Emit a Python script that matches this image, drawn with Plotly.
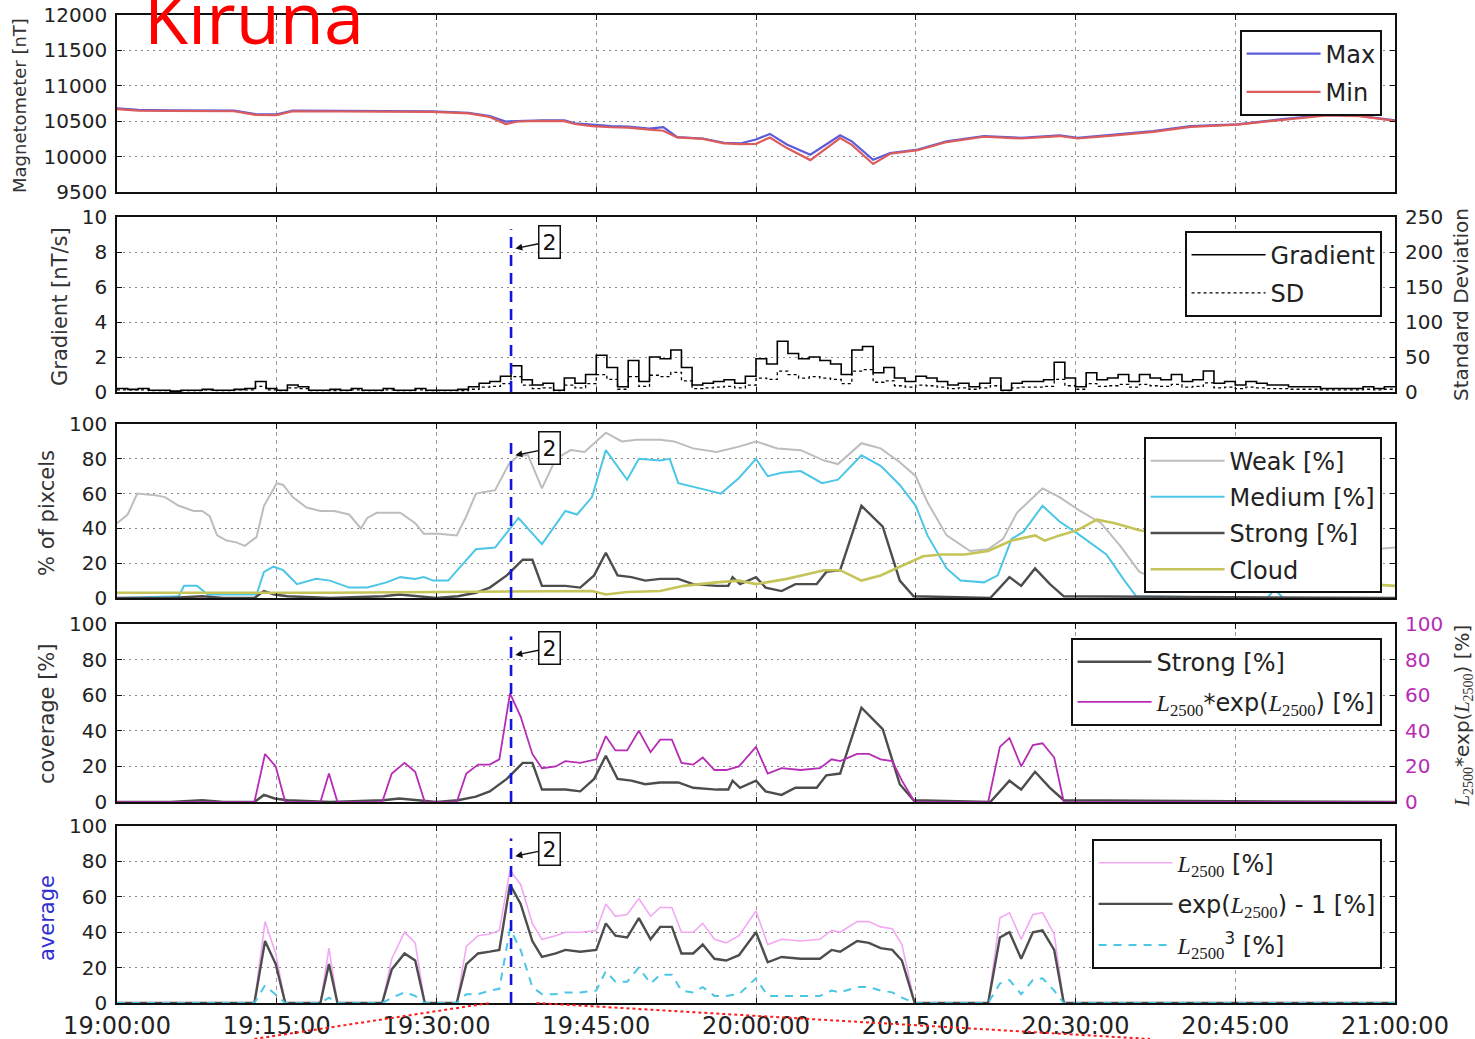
import plotly.graph_objects as go
from plotly.subplots import make_subplots

# ---------------- data (minutes after 19:00) ----------------
tick_minutes = [0, 15, 30, 45, 60, 75, 90, 105, 120]
tick_labels = ["19:00:00", "19:15:00", "19:30:00", "19:45:00", "20:00:00",
               "20:15:00", "20:30:00", "20:45:00", "21:00:00"]

mag_minutes = [0, 2, 5, 8, 11, 13, 15, 16.5, 20, 25, 29.6, 33, 35, 36.5, 37.6, 40, 42, 43, 44.6, 46.4,
               48, 50, 51.3, 52.6, 55, 57, 58.5, 60, 61.3, 62.9, 65.1, 67.9, 69, 71, 72.6, 75.2, 77.9,
               81.4, 84.9, 88.5, 90.2, 93.7, 97.3, 100.8, 105.2, 109.2, 113.6, 116.7, 120]
mag_max = [10681, 10660, 10652, 10652, 10650, 10600, 10598, 10650, 10645, 10645, 10640, 10619, 10571,
           10495, 10500, 10512, 10510, 10470, 10450, 10430, 10425, 10395, 10415, 10275, 10255, 10195,
           10185, 10240, 10320, 10170, 10025, 10300, 10215, 9955, 10050, 10100, 10215, 10290, 10265,
           10300, 10265, 10310, 10360, 10430, 10455, 10525, 10590, 10575, 10510]
mag_min = [10670, 10650, 10645, 10645, 10640, 10590, 10585, 10640, 10635, 10635, 10630, 10610, 10560,
           10460, 10495, 10505, 10500, 10460, 10430, 10414, 10410, 10380, 10365, 10270, 10250, 10185,
           10175, 10180, 10270, 10120, 9950, 10262, 10165, 9895, 10040, 10090, 10205, 10280, 10255,
           10290, 10255, 10300, 10350, 10420, 10450, 10515, 10580, 10570, 10505]

grad_minutes = list(range(0, 121))
gradient = [0.2, 0.15, 0.2, 0.1, 0.1, 0.05, 0.1, 0.1, 0.15, 0.1, 0.1, 0.15, 0.2,
            0.6, 0.2, 0.1, 0.4, 0.3, 0.1, 0.1, 0.15, 0.1, 0.2, 0.1, 0.1, 0.2, 0.1, 0.1, 0.2, 0.1,
            0.1, 0.1, 0.15, 0.3, 0.5, 0.6, 0.9, 1.5, 0.7, 0.4, 0.5, 0.1, 0.8, 0.5, 1.0, 2.1, 1.4,
            0.3, 1.8, 0.6, 2.0, 1.9, 2.4, 1.4, 0.4, 0.5, 0.6, 0.7, 0.5, 0.9, 1.9, 1.6, 2.9, 2.2,
            1.9, 2.0, 1.8, 1.6, 1.0, 2.4, 2.6, 1.1, 1.4, 0.8, 0.6, 0.9, 0.8, 0.6, 0.4, 0.5, 0.3,
            0.5, 0.8, 0.1, 0.5, 0.6, 0.6, 0.7, 1.7, 0.8, 0.3, 1.1, 0.7, 0.8, 1.0, 0.6, 1.0, 0.8,
            0.7, 1.0, 0.6, 0.7, 1.2, 0.5, 0.6, 0.4, 0.6, 0.5, 0.4, 0.4, 0.3, 0.3, 0.3, 0.2, 0.2,
            0.2, 0.2, 0.3, 0.2, 0.3, 0.3]
std_dev = [3, 3, 3, 2, 2, 1, 2, 2, 3, 2, 2, 3, 3,
           8, 3, 2, 6, 5, 2, 2, 2, 2, 3, 2, 2, 3, 2, 2, 3, 2,
           2, 2, 2, 4, 7, 8, 12, 22, 10, 5, 6, 2, 10, 6, 12, 25, 18,
           4, 22, 8, 24, 22, 28, 16, 5, 6, 7, 8, 6, 10, 20, 18, 30, 25,
           20, 22, 20, 18, 12, 30, 32, 14, 16, 9, 7, 10, 9, 7, 5, 6, 4,
           6, 9, 2, 6, 7, 7, 8, 18, 9, 4, 12, 8, 9, 11, 7, 11, 9,
           8, 11, 7, 8, 13, 6, 7, 5, 7, 6, 5, 5, 4, 4, 4, 3, 3,
           3, 3, 4, 3, 4, 4]

weak_t = [0, 1, 1.9, 3.6, 4.5, 5.8, 7.2, 8, 8.7, 9.4, 10.3, 11.2, 12, 13.1, 13.8, 15, 15.6, 16.5, 17.8,
          19.1, 20.4, 21.8, 22.9, 23.5, 24.4, 26.6, 28, 28.8, 30.2, 31.9, 32.8, 33.7, 35.5, 36.8, 37.7,
          38.6, 39.9, 41.2, 42.6, 43.9, 45.9, 47.4, 48.8, 51, 52.3, 54.1, 56.3, 58.4, 60, 62, 64.2,
          66.4, 67.7, 69.9, 71.7, 73.5, 75, 76.1, 77.9, 80.1, 81.8, 83.2, 84.5, 86.9, 88.5, 90.2,
          92.4, 94.2, 96, 98, 101, 105, 110, 115, 118, 120]
weak_v = [43, 48, 60, 59, 58, 53, 50, 50, 47, 36, 33, 32, 30, 35, 53, 66, 65, 58, 52, 50, 50, 48, 40,
          46, 49, 49, 43, 37, 37, 36, 47, 60, 62, 77, 82, 82, 63, 80, 85, 84, 95, 90, 91, 91, 90, 86,
          84, 87, 90, 86, 85, 79, 77, 89, 86, 78, 70, 55, 36, 27, 28, 34, 49, 63, 58, 51, 43, 30, 15,
          10, 8, 10, 18, 25, 28, 29]

med_t = [0, 5.8, 6.3, 7.5, 8.5, 13.1, 13.8, 14.7, 15.6, 16.9, 18.7, 20, 21.8, 23.5, 25.3, 26.6, 28,
         28.8, 29.7, 31.1, 32.4, 33.7, 35.5, 36.4, 37.7, 39.9, 42.1, 43.2, 44.6, 45.9, 47.9, 49, 51,
         51.9, 52.7, 55.4, 56.7, 58.4, 60, 61.1, 62.4, 64.2, 66.2, 67.7, 69.9, 71.7, 73.5, 75, 76.1,
         77.9, 79.2, 81.4, 82.7, 84, 85.1, 86.9, 88.5, 90.2, 92.9, 94.6, 95.7, 108, 108.7, 109.5, 120]
med_v = [0, 1, 7, 7, 2, 2, 15, 18, 16, 8, 11, 10, 6, 6, 9, 12, 11, 12, 10, 10, 19, 28, 29, 36, 46, 31,
         50, 48, 58, 85, 68, 80, 79, 80, 66, 62, 60, 69, 80, 70, 72, 73, 66, 68, 82, 76, 65, 53, 36,
         17, 10, 9, 13, 34, 38, 53, 44, 37, 25, 10, 1, 0, 5, 0, 0]

strong_t = [0, 5, 8, 10, 12.9, 13.8, 14.8, 16, 20, 25, 26.5, 28, 30, 32, 32.8, 33.7, 35, 36.6, 38.1,
            39, 39.9, 42.1, 43.5, 44.8, 45.9, 47, 48.3, 49.6, 51, 52.7, 54.1, 56.3, 57.4, 57.8, 58.5,
            60, 60.9, 62.4, 63.7, 65.7, 66.6, 67.9, 69.9, 71.9, 73.5, 74.8, 82, 83.8, 84.9, 86.2,
            87.6, 88.9, 120]
strong_v = [0, 0, 1, 0, 0, 4, 2, 1, 0, 1, 2, 1, 0, 1, 2, 3, 6, 13, 22, 22, 7, 7, 6, 13, 26, 13, 12,
            10, 11, 11, 8, 7, 7, 12, 8, 12, 6, 4, 8, 8, 15, 16, 53, 41, 10, 1, 0, 12, 7, 17, 8, 1, 0]

cloud_t = [0, 10, 20, 30, 40, 44.6, 45.9, 47.9, 51, 53.2, 56.3, 58.4, 60, 62.9, 66.4, 67.9, 69.9,
           71.7, 73.5, 75.7, 77.4, 79.6, 81.8, 84, 86.2, 87.1, 88.5, 90.2, 92, 93.7, 96, 100, 105,
           110, 115, 120]
cloud_v = [3, 3, 3, 3.5, 4, 4, 2, 3.5, 4, 7, 9, 10, 8, 11, 16, 16, 10, 13, 18, 24, 25, 25, 27, 33, 36,
           33, 36, 39, 45, 43, 39, 35, 25, 15, 9, 7]

l_t = [0, 12.9, 13.9, 14.9, 15.8, 19.1, 19.9, 20.7, 24.9, 25.8, 27, 28, 28.9, 31.9, 32.8, 33.9, 35,
       35.9, 36.9, 37.9, 39, 39.9, 41.2, 42.1, 43.5, 45, 45.9, 46.8, 47.9, 49, 50.1, 51, 52.1, 53,
       54.1, 55, 56.1, 57.2, 58.4, 60, 61.1, 62.4, 64.2, 66, 67.1, 67.9, 69.5, 70.6, 71.7, 72.8,
       73.7, 74.9, 81.8, 82.9, 83.8, 84.9, 86, 86.9, 88, 88.9, 120]
l_exp = [0, 0, 27, 20, 0, 0, 16, 0, 0, 16, 22, 17, 0, 0, 16, 21, 21, 24, 61, 48, 27, 19, 20, 23, 22,
         24, 37, 29, 29, 40, 28, 35, 35, 22, 21, 25, 18, 18, 20, 31, 16, 19, 18, 19, 24, 23, 27, 27,
         24, 23, 12, 0, 0, 31, 36, 20, 32, 33, 25, 0, 0]
l2500 = [0, 0, 46, 28, 0, 0, 31, 0, 0, 25, 40, 34, 0, 0, 32, 38, 39, 41, 75, 67, 45, 36, 38, 40, 40,
         41, 56, 49, 50, 59, 49, 54, 54, 40, 40, 45, 36, 34, 38, 52, 33, 36, 35, 36, 41, 40, 46, 46,
         43, 42, 33, 0, 0, 48, 51, 36, 50, 51, 39, 0, 0]
exp_m1 = [0, 0, 35, 22, 0, 0, 22, 0, 0, 19, 28, 24, 0, 0, 22, 28, 29, 30, 67, 56, 35, 26, 28, 30, 29,
          30, 45, 38, 37, 48, 36, 43, 43, 28, 28, 33, 25, 24, 27, 40, 23, 26, 25, 25, 30, 29, 35, 34,
          31, 30, 24, 0, 0, 37, 40, 25, 40, 41, 30, 0, 0]
l_cube = [0, 0, 10, 5, 0, 0, 3, 0, 0, 3, 6, 4, 0, 0, 5, 5, 7, 8, 42, 30, 9, 5, 5, 6, 6, 7, 18, 12, 12,
          20, 11, 16, 16, 7, 6, 9, 4, 4, 5, 14, 4, 4, 4, 4, 7, 6, 9, 9, 7, 6, 3, 0, 0, 11, 13, 5, 13,
          14, 7, 0, 0]

event_minute = 37.0
zoom_window = [35.0, 39.4]          # start/end of the red zoom lines on the bottom axis
zoom_ends = [12.9, 97.0]             # where the red zoom lines leave the figure

# ---------------- figure ----------------
FONT = "DejaVu Sans"
SERIF = "Liberation Serif"
L = f'<span style="font-family:{SERIF}"><i>L</i><sub>2500</sub></span>'

C_MAX, C_MIN = "#5c5cd8", "#dc5c5c"
C_WEAK, C_MED, C_STRONG, C_CLOUD = "#bdbdbd", "#4cc6e6", "#4d4d4d", "#c4c458"
C_MAG, C_PINK = "#b62cb6", "#f3a8f3"

fig = make_subplots(rows=5, cols=1, shared_xaxes=True,
                    specs=[[{}], [{"secondary_y": True}], [{}], [{"secondary_y": True}], [{}]])

fig.add_trace(go.Scatter(x=mag_minutes, y=mag_max, name="Max", mode="lines",
                         line=dict(color=C_MAX, width=2.2), legend="legend", legendgroup="a"), row=1, col=1)
fig.add_trace(go.Scatter(x=mag_minutes, y=mag_min, name="Min", mode="lines",
                         line=dict(color=C_MIN, width=2.2), legend="legend", legendgroup="b"), row=1, col=1)

fig.add_trace(go.Scatter(x=grad_minutes, y=gradient, name="Gradient", mode="lines",
                         line=dict(color="black", width=1.6, shape="hv"), legend="legend2",
                         legendgroup="c"), row=2, col=1, secondary_y=False)
fig.add_trace(go.Scatter(x=grad_minutes, y=std_dev, name="SD", mode="lines",
                         line=dict(color="black", width=1.3, shape="hv", dash="dot"), legend="legend2",
                         legendgroup="d"), row=2, col=1, secondary_y=True)

fig.add_trace(go.Scatter(x=weak_t, y=weak_v, name="Weak [%]", mode="lines",
                         line=dict(color=C_WEAK, width=2), legend="legend3", legendgroup="e"), row=3, col=1)
fig.add_trace(go.Scatter(x=med_t, y=med_v, name="Medium [%]", mode="lines",
                         line=dict(color=C_MED, width=2), legend="legend3", legendgroup="f"), row=3, col=1)
fig.add_trace(go.Scatter(x=strong_t, y=strong_v, name="Strong [%]", mode="lines",
                         line=dict(color=C_STRONG, width=2.4), legend="legend3", legendgroup="g"), row=3, col=1)
fig.add_trace(go.Scatter(x=cloud_t, y=cloud_v, name="Cloud", mode="lines",
                         line=dict(color=C_CLOUD, width=2.6), legend="legend3", legendgroup="h"), row=3, col=1)

fig.add_trace(go.Scatter(x=strong_t, y=strong_v, name="Strong [%]", mode="lines",
                         line=dict(color=C_STRONG, width=2.4), legend="legend4", legendgroup="i"),
              row=4, col=1, secondary_y=False)
fig.add_trace(go.Scatter(x=l_t, y=l_exp, name=f"{L}*exp({L}) [%]", mode="lines",
                         line=dict(color=C_MAG, width=1.8), legend="legend4", legendgroup="j"),
              row=4, col=1, secondary_y=True)

fig.add_trace(go.Scatter(x=l_t, y=l2500, name=f"{L} [%]", mode="lines",
                         line=dict(color=C_PINK, width=1.6), legend="legend5", legendgroup="k"), row=5, col=1)
fig.add_trace(go.Scatter(x=l_t, y=exp_m1, name=f"exp({L}) - 1 [%]", mode="lines",
                         line=dict(color=C_STRONG, width=2.4), legend="legend5", legendgroup="l"), row=5, col=1)
fig.add_trace(go.Scatter(x=l_t, y=l_cube, name=f"{L}<sup>3</sup> [%]", mode="lines",
                         line=dict(color=C_MED, width=2, dash="8px,7px"), legend="legend5",
                         legendgroup="m"), row=5, col=1)

# panel domains (fractions of plot area)
doms = [(0.8209, 1.0), (0.6184, 0.7955), (0.4099, 0.5860), (0.2034, 0.3836), (0.0, 0.1791)]
for r, d in enumerate(doms, start=1):
    fig.update_yaxes(domain=list(d), row=r, col=1)

fig.update_xaxes(domain=[0, 1], range=[0, 120], tickvals=tick_minutes, ticktext=tick_labels,
                 showgrid=True, gridcolor="#9a9a9a", gridwidth=1, griddash="4px,4px",
                 showline=True, linecolor="#111", linewidth=1.6, mirror="ticks",
                 ticks="inside", ticklen=5, tickcolor="#111", zeroline=False, automargin=False,
                 tickfont=dict(family=FONT, size=24, color="#222"))

yfont = dict(family=FONT, size=20, color="#222")
common_y = dict(showgrid=True, gridcolor="#8a8a8a", gridwidth=1.4, griddash="2px,4px",
                showline=True, linecolor="#111", linewidth=1.6, ticks="inside", ticklen=5,
                tickcolor="#111", zeroline=False, tickfont=yfont, automargin=False,
                ticklabelstandoff=4)
right_y = dict(showgrid=False, showline=False, ticks="inside", ticklen=5, tickcolor="#111",
               zeroline=False, automargin=False, ticklabelstandoff=9)
fig.update_layout(
    yaxis=dict(range=[9500, 12000], dtick=500, tickformat="d", mirror="ticks", **common_y),
    yaxis2=dict(range=[0, 10], dtick=2, mirror=True, **common_y),
    yaxis3=dict(range=[0, 250], dtick=50, tickfont=yfont, **right_y),
    yaxis4=dict(range=[0, 100], dtick=20, mirror="ticks", **common_y),
    yaxis5=dict(range=[0, 100], dtick=20, mirror=True, **common_y),
    yaxis6=dict(range=[0, 100], dtick=20, tickfont=dict(family=FONT, size=20, color=C_MAG), **right_y),
    yaxis7=dict(range=[0, 100], dtick=20, mirror="ticks", **common_y),
)

leg_common = dict(bgcolor="white", bordercolor="#111", borderwidth=1.6, xanchor="right",
                  yanchor="top", x=0.9898, font=dict(family=FONT, size=24, color="#222"),
                  itemwidth=74)
fig.update_layout(
    legend=dict(y=0.9848, tracegroupgap=4, **leg_common),
    legend2=dict(y=0.7814, tracegroupgap=4, **leg_common),
    legend3=dict(y=0.5729, tracegroupgap=2, **leg_common),
    legend4=dict(y=0.3694, tracegroupgap=6, **leg_common),
    legend5=dict(y=0.1660, tracegroupgap=7, **leg_common),
)

# event marker lines and "2" labels
panels = [("x2", "y2", 8.2), ("x3", "y4", 82), ("x4", "y5", 82.6), ("x5", "y7", 83)]
for xr, yr, yv in panels:
    fig.add_shape(type="line", xref=xr, yref=f"{yr} domain", x0=event_minute, x1=event_minute,
                  y0=0, y1=0.93, line=dict(color="#1414e0", width=2.6, dash="11px,7px"), layer="above")
    fig.add_annotation(xref=xr, yref=yr, x=event_minute + 0.4, y=yv, text="2", showarrow=True,
                       arrowhead=2, arrowsize=1, arrowwidth=1.4, arrowcolor="#111",
                       ax=34, ay=-7, font=dict(family=FONT, size=22, color="#111"),
                       bordercolor="#111", borderwidth=1.5, borderpad=3, bgcolor="white")

# axis titles
def ytitle(text, x_px, y_px, color="#333", size=21):
    fig.add_annotation(xref="paper", yref="paper", x=(x_px - 117) / 1278, y=(1003 - y_px) / 988,
                       xanchor="center", yanchor="middle",
                       text=text, textangle=-90, showarrow=False,
                       font=dict(family=FONT, size=size, color=color))

ytitle("Magnetometer [nT]", 20, 106, size=18)
ytitle("Gradient [nT/s]", 60, 307)
ytitle("% of pixcels", 47, 513)
ytitle("coverage [%]", 47, 714)
ytitle("average", 47, 918, color="#3030d0")
ytitle("Standard Deviation", 1461, 305, size=20)
ytitle(f"{L}*exp({L}) [%]", 1463, 716, size=20)

# station title
fig.add_annotation(xref="paper", yref="paper", x=0.0196, y=0.9474, xanchor="left", yanchor="bottom",
                   text="Kiruna", showarrow=False,
                   font=dict(family="Open Sans", size=72, color="#ff0000"))

# red zoom lines
for start, end, s in [(zoom_ends[0], zoom_window[0], 1), (zoom_window[1], zoom_ends[1], -1)]:
    fig.add_shape(type="line", xref="paper", yref="paper",
                  x0=start / 120, x1=end / 120,
                  y0=-0.0364 if s == 1 else 0, y1=0 if s == 1 else -0.0364,
                  line=dict(color="#ff1a1a", width=2, dash="dot"), layer="above")

fig.update_layout(width=1475, height=1039,
                  margin=dict(l=117, r=80, t=15, b=36, autoexpand=False),
                  plot_bgcolor="white", paper_bgcolor="white", showlegend=True,
                  font=dict(family=FONT))

fig.write_html("out.html")
